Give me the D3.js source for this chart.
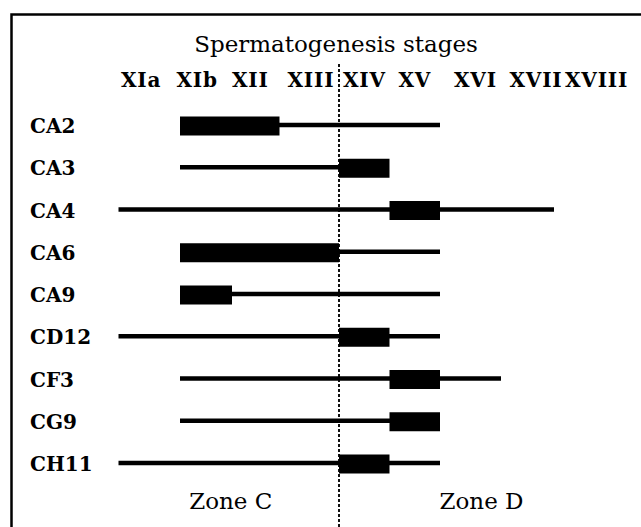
<!DOCTYPE html>
<html>
<head>
<meta charset="utf-8">
<script src="https://cdn.jsdelivr.net/npm/d3@7"></script>
<style>
  html, body { margin: 0; padding: 0; background: #fff; }
  svg { display: block; }
  text { font-family: "DejaVu Serif", "Liberation Serif", serif; fill: #000; }
</style>
</head>
<body>
<svg id="chart" width="641" height="527"></svg>
<script>
// Spermatogenesis stages (column headings)
const stages = ["XIa", "XIb", "XII", "XIII", "XIV", "XV", "XVI", "XVII", "XVIII"];

// Genes, one per row
const genes = ["CA2", "CA3", "CA4", "CA6", "CA9", "CD12", "CF3", "CG9", "CH11"];

// Expression window (thin line): stage index where it starts and where it ends
const spanStart = [1, 1, 0, 1, 1, 0, 1, 1, 0];
const spanEnd   = [6, 4, 8, 6, 6, 6, 7, 6, 6];

// Peak expression (thick bar): stage index start / end
const peakStart = [1, 4, 5, 1, 1, 4, 5, 5, 4];
const peakEnd   = [3, 5, 6, 4, 2, 5, 6, 6, 5];

// Zone boundary sits at the start of stage XIV
const zoneBoundary = 4;
const zones = ["Zone C", "Zone D"];

const rows = genes.map((g, i) => ({
  gene: g,
  s0: spanStart[i], s1: spanEnd[i],
  p0: peakStart[i], p1: peakEnd[i]
}));

const svg = d3.select("#chart");

// Stage columns are of unequal width, so the scale is piecewise linear
const x = d3.scaleLinear()
  .domain(d3.range(0, 9))
  .range([118.5, 180, 232, 279.5, 339, 389.5, 440, 501, 554]);

// Headings are set on evenly spaced tab stops
const xHead = d3.scalePoint()
  .domain(stages)
  .range([121, 565]);

const y = d3.scalePoint()
  .domain(genes)
  .range([126, 464]);

// Frame (open to the right and bottom)
svg.append("path")
  .attr("d", "M11.5,660 V14.5 H700")
  .attr("fill", "none")
  .attr("stroke", "#000")
  .attr("stroke-width", 2.5);

// Title
svg.append("text")
  .attr("x", 336)
  .attr("y", 52)
  .attr("text-anchor", "middle")
  .style("font-size", "23px")
  .text("Spermatogenesis stages");

// Stage headings
svg.append("g")
  .selectAll("text")
  .data(stages)
  .join("text")
  .attr("x", d => xHead(d))
  .attr("y", 87)
  .style("font-size", "20px")
  .style("font-weight", "bold")
  .style("letter-spacing", "0.8px")
  .text(d => d);

// Zone divider
svg.append("line")
  .attr("x1", x(zoneBoundary)).attr("x2", x(zoneBoundary))
  .attr("y1", 64).attr("y2", 527)
  .attr("stroke", "#111")
  .attr("stroke-width", 2)
  .attr("stroke-dasharray", "3,2");

// Gene labels
svg.append("g")
  .selectAll("text")
  .data(rows)
  .join("text")
  .attr("x", 30)
  .attr("y", d => y(d.gene))
  .attr("dy", "0.36em")
  .style("font-size", "20px")
  .style("font-weight", "bold")
  .text(d => d.gene);

const marks = svg.append("g");

// Expression window lines
marks.selectAll("line.span")
  .data(rows)
  .join("line")
  .attr("class", "span")
  .attr("x1", d => x(d.s0))
  .attr("x2", d => x(d.s1))
  .attr("y1", d => y(d.gene) - 1)
  .attr("y2", d => y(d.gene) - 1)
  .attr("stroke", "#000")
  .attr("stroke-width", 4.5);

// Peak expression bars
const barH = 19;
marks.selectAll("rect.peak")
  .data(rows)
  .join("rect")
  .attr("class", "peak")
  .attr("x", d => x(d.p0))
  .attr("width", d => x(d.p1) - x(d.p0))
  .attr("y", d => y(d.gene) - barH / 2)
  .attr("height", barH)
  .attr("fill", "#000");

// Zone labels, one in each half
svg.append("g")
  .selectAll("text")
  .data(zones)
  .join("text")
  .attr("x", (d, i) => i === 0 ? (x(0) + x(zoneBoundary)) / 2 + 2 : (x(zoneBoundary) + x(8)) / 2 + 35)
  .attr("y", 509)
  .attr("text-anchor", "middle")
  .style("font-size", "23px")
  .text(d => d);
</script>
</body>
</html>
